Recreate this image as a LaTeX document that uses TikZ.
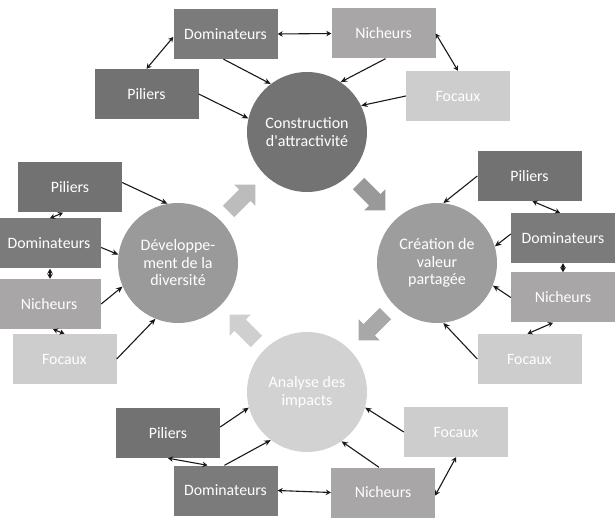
\documentclass[tikz,border=0pt]{standalone}
\usepackage{fontspec}
\setmainfont{Carlito}
\newfontfamily\calib{Carlito}
\usetikzlibrary{arrows.meta,calc}
\definecolor{cpil}{HTML}{727272}
\definecolor{cdom}{HTML}{7B7B7B}
\definecolor{cnic}{HTML}{A8A6A6}
\definecolor{cfoc}{HTML}{CDCDCD}
\definecolor{ccA}{HTML}{737373}
\definecolor{ccB}{HTML}{9D9D9D}
\definecolor{ccC}{HTML}{9A9A9A}
\definecolor{ccD}{HTML}{D2D2D2}
\definecolor{baA}{HTML}{999999}
\definecolor{baB}{HTML}{A8A8A8}
\definecolor{baC}{HTML}{CFCFCF}
\definecolor{baD}{HTML}{BCBCBC}
\newcommand\blockarr[3]{\fill[#3, shift={(#1)}, rotate=#2] (-19,-8) -- (4,-8) -- (4,-15) -- (19,0) -- (4,15) -- (4,8) -- (-19,8) -- cycle;}
\begin{document}
\begin{tikzpicture}[x=1pt,y=-1pt,
 box/.style={rectangle, minimum width=104pt, minimum height=50pt, inner sep=0pt, text=white, font=\calib\fontsize{15.8}{17}\selectfont},
 pil/.style={box, fill=cpil}, dom/.style={box, fill=cdom}, nic/.style={box, fill=cnic}, foc/.style={box, fill=cfoc},
 circ/.style={circle, minimum size=120pt, inner sep=0pt, text=white, align=center, font=\calib\fontsize{16}{17.5}\selectfont},
 arrA/.style={-{Stealth[length=6.5pt,width=5.5pt]}, line width=1.1pt, draw=black!90},
 arrB/.style={{Stealth[length=5pt,width=5.5pt]}-{Stealth[length=5pt,width=5.5pt]}, line width=1.1pt, draw=black!90},
]
\useasboundingbox (0,0) rectangle (616,521);
% block arrows
\blockarr{372,197}{-45}{baA}
\blockarr{372,327}{-135}{baB}
\blockarr{243,328}{135}{baC}
\blockarr{242,198}{45}{baD}
% circles
\node[circ, fill=ccA] (c1) at (307,132) {Construction\\d'attractivité};
\node[circ, fill=ccB] (c2) at (437,263) {Création de\\valeur\\partagée};
\node[circ, fill=ccD] (c3) at (307,392) {Analyse des\\impacts};
\node[circ, fill=ccC] (c4) at (178,263) {Développe-\\ment de la\\diversité};
% top
\node[dom] (tD) at (225.5,34) {Dominateurs};
\node[nic] (tN) at (383.5,33.5) {Nicheurs};
\node[pil] (tP) at (146.5,94) {Piliers};
\node[foc] (tF) at (458,96) {Focaux};
% right
\node[pil] (rP) at (529.5,176) {Piliers};
\node[dom] (rD) at (563,238) {Dominateurs};
\node[nic] (rN) at (563,297.5) {Nicheurs};
\node[foc] (rF) at (529.5,359) {Focaux};
% bottom
\node[pil] (bP) at (168,433) {Piliers};
\node[dom] (bD) at (225.5,490.5) {Dominateurs};
\node[nic] (bN) at (383,492.5) {Nicheurs};
\node[foc] (bF) at (456,432) {Focaux};
% left
\node[pil] (lP) at (70,187.5) {Piliers};
\node[dom] (lD) at (49,243.5) {Dominateurs};
\node[nic] (lN) at (49,304) {Nicheurs};
\node[foc] (lF) at (64.5,359) {Focaux};
% top connectors
\draw[arrB] (tD.east) -- (tN.west);
\draw[arrB] ([yshift=-3pt]tD.west) -- (tP.north);
\draw[arrB] (tN.east) -- (tF.north);
\draw[arrA] ([xshift=-2pt]tD.south) -- (c1.127);
\draw[arrA] ([xshift=2pt]tN.south) -- (c1.56);
\draw[arrA] (tP.east) -- (c1.167);
\draw[arrA] (tF.west) -- (c1.26);
% right connectors
\draw[arrA] (rP.west) -- (c2.84);
\draw[arrB] ([xshift=3pt]rP.south) -- ([xshift=-3pt]rD.north);
\draw[arrA] ([yshift=4pt]rD.west) -- (c2.16);
\draw[arrB] (rD.south) -- (rN.north);
\draw[arrA] (rN.west) -- (c2.-22);
\draw[arrB] ([xshift=-10pt]rN.south) -- ([xshift=-2pt]rF.north);
\draw[arrA] (rF.west) -- (c2.-84);
% bottom connectors
\draw[arrA] ([yshift=6pt]bP.east) -- (c3.195);
\draw[arrB] (bP.south) -- ([xshift=-18pt]bD.north);
\draw[arrA] ([xshift=-1pt]bD.north) -- (c3.233);
\draw[arrB] (bD.east) -- (bN.west);
\draw[arrA] ([xshift=-4pt]bN.north) -- (c3.305);
\draw[arrB] ([yshift=-3pt]bN.east) -- (bF.south);
\draw[arrA] (bF.west) -- (c3.345);
% left connectors
\draw[arrA] ([yshift=5pt]lP.east) -- (c4.100);
\draw[arrB] ([xshift=-7pt]lP.south) -- ([xshift=1pt]lD.north);
\draw[arrA] ([yshift=-4pt]lD.east) -- (c4.172);
\draw[arrB] ([xshift=1pt]lD.south) -- ([xshift=1pt]lN.north);
\draw[arrA] (lN.east) -- (c4.203);
\draw[arrB] ([xshift=4pt]lN.south) -- (lF.north);
\draw[arrA] (lF.east) -- (c4.248);
\end{tikzpicture}
\end{document}
